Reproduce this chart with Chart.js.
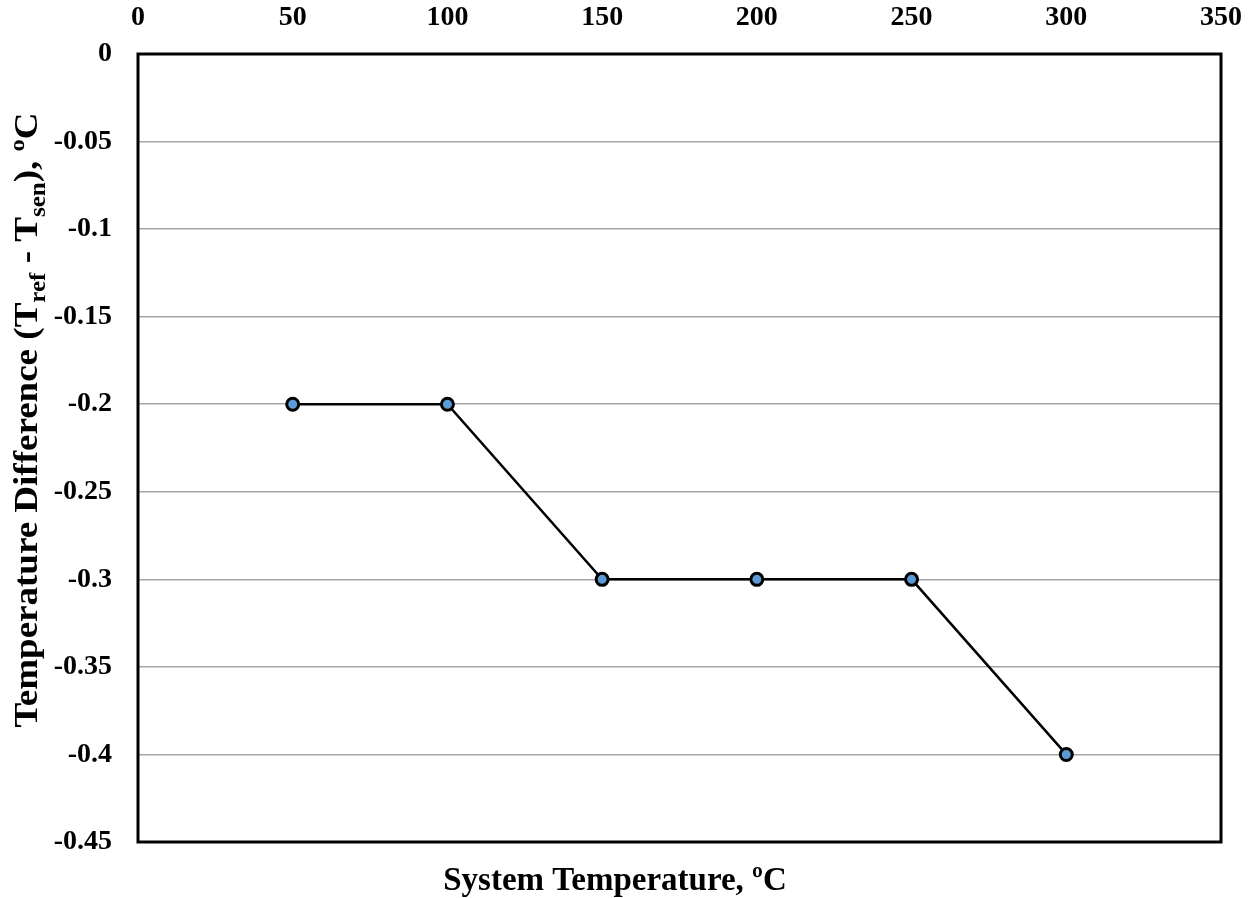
<!DOCTYPE html>
<html>
<head>
<meta charset="utf-8">
<script src="https://cdn.jsdelivr.net/npm/chart.js@4"></script>
<style>
  html, body { margin: 0; padding: 0; background: #fff; }
  #wrap { width: 1253px; height: 898px; }
</style>
</head>
<body>
<div id="wrap"><canvas id="chart" width="1253" height="898"></canvas></div>
<script>
const systemTemps = [50, 100, 150, 200, 250, 300];
const tempDiffs = [-0.2, -0.2, -0.3, -0.3, -0.3, -0.4];
const xTicks = [0, 50, 100, 150, 200, 250, 300, 350];
const yTicks = [0, -0.05, -0.1, -0.15, -0.2, -0.25, -0.3, -0.35, -0.4, -0.45];

const FONT = '"Liberation Serif", "Times New Roman", serif';

// frame + axis titles (y title has subscripts)
const decor = {
  id: 'decor',
  afterDraw(chart) {
    const { ctx, chartArea: a } = chart;
    ctx.save();
    ctx.strokeStyle = '#000';
    ctx.lineWidth = 3;
    ctx.strokeRect(a.left, a.top, a.right - a.left, a.bottom - a.top);

    ctx.fillStyle = '#000';
    ctx.textBaseline = 'alphabetic';
    ctx.font = 'bold 33px ' + FONT;
    ctx.textAlign = 'center';
    ctx.fillText('System Temperature, ºC', 615, 890);

    // rotated y title, stretched to the reference length
    const parts = [
      ['Temperature Difference (T', 34, 0],
      ['ref', 23, 8],
      [' - T', 34, 0],
      ['sen', 23, 8],
      ['), ºC', 34, 0]
    ];
    let total = 0;
    parts.forEach(p => { ctx.font = 'bold ' + p[1] + 'px ' + FONT; total += ctx.measureText(p[0]).width; });
    ctx.translate(37, 420);
    ctx.rotate(-Math.PI / 2);
    ctx.scale(615 / total, 1);
    ctx.textAlign = 'left';
    let x = -total / 2;
    parts.forEach(p => {
      ctx.font = 'bold ' + p[1] + 'px ' + FONT;
      ctx.fillText(p[0], x, p[2]);
      x += ctx.measureText(p[0]).width;
    });
    ctx.restore();
  }
};

new Chart(document.getElementById('chart').getContext('2d'), {
  type: 'scatter',
  data: {
    datasets: [{
      data: systemTemps.map((t, i) => ({ x: t, y: tempDiffs[i] })),
      showLine: true,
      borderColor: '#000',
      borderWidth: 2.5,
      pointRadius: 6,
      pointBackgroundColor: '#5b9bd5',
      pointBorderColor: '#000',
      pointBorderWidth: 3
    }]
  },
  options: {
    responsive: false,
    animation: false,
    layout: { padding: { left: 0, right: 32, top: 0, bottom: 56 } },
    plugins: { legend: { display: false }, tooltip: { enabled: false } },
    scales: {
      x: {
        type: 'linear',
        position: 'top',
        min: 0, max: 350,
        afterBuildTicks: s => { s.ticks = xTicks.map(v => ({ value: v })); },
        afterFit: s => { s.height = 54; s.paddingLeft = 0; s.paddingRight = 0; },
        grid: { display: false, drawTicks: false },
        border: { display: false },
        ticks: { color: '#000', padding: 19, maxRotation: 0, font: { family: FONT, size: 28, weight: 'bold' } }
      },
      y: {
        type: 'linear',
        min: -0.45, max: 0,
        afterBuildTicks: s => { s.ticks = yTicks.map(v => ({ value: v })); },
        afterFit: s => { s.width = 138; s.paddingTop = 0; s.paddingBottom = 0; },
        grid: { color: '#a6a6a6', lineWidth: 1.5, drawTicks: false },
        border: { display: false },
        ticks: {
          color: '#000', padding: 26,
          font: { family: FONT, size: 28, weight: 'bold' },
          callback: v => String(Number(v.toFixed(2)))
        }
      }
    }
  },
  plugins: [decor]
});
</script>
</body>
</html>
